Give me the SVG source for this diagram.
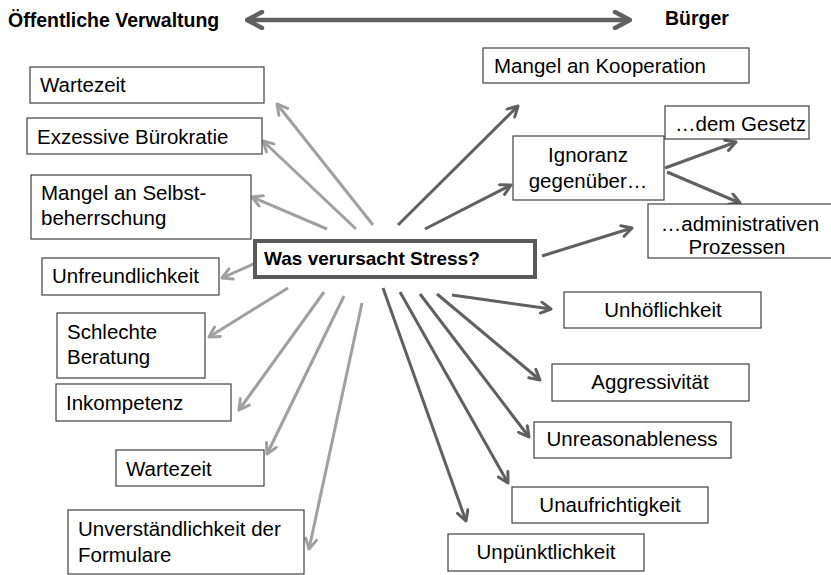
<svg xmlns="http://www.w3.org/2000/svg" width="831" height="575" viewBox="0 0 831 575">
<style>
text{font-family:"Liberation Sans",Arial,sans-serif;font-size:20.5px;fill:#000}
.b{font-weight:bold;font-size:19.5px}
.c{text-anchor:middle}
.box{fill:#fff;stroke:#404040;stroke-width:1.2}
.lt{stroke:#a0a0a0;stroke-width:3;fill:none;marker-end:url(#ml)}
.dk{stroke:#606060;stroke-width:3;fill:none;marker-end:url(#md)}
</style>
<defs>
<marker id="ml" viewBox="0 0 14 14" refX="12" refY="7" markerWidth="14" markerHeight="14" markerUnits="userSpaceOnUse" orient="auto"><path d="M2,1.5 L12,7 L2,12.5" fill="none" stroke="#a0a0a0" stroke-width="3" stroke-linecap="round" stroke-linejoin="round"/></marker>
<marker id="md" viewBox="0 0 14 14" refX="12" refY="7" markerWidth="14" markerHeight="14" markerUnits="userSpaceOnUse" orient="auto"><path d="M2,1.5 L12,7 L2,12.5" fill="none" stroke="#606060" stroke-width="3" stroke-linecap="round" stroke-linejoin="round"/></marker>
<marker id="mt" viewBox="0 0 20 20" refX="18" refY="10" markerWidth="20" markerHeight="20" markerUnits="userSpaceOnUse" orient="auto-start-reverse"><path d="M3,2 L18,10 L3,18" fill="none" stroke="#606060" stroke-width="4.5" stroke-linecap="round" stroke-linejoin="round"/></marker>
</defs>

<g id="header">
<text class="b" x="8" y="27">Öffentliche Verwaltung</text>
<text class="b" x="665" y="25">Bürger</text>
</g>

<g id="connectors">
<line x1="247" y1="20" x2="630" y2="20" stroke="#606060" stroke-width="4.5" marker-start="url(#mt)" marker-end="url(#mt)"/>
<line class="lt" x1="373" y1="225" x2="277" y2="104"/>
<line class="lt" x1="356" y1="229" x2="263" y2="141"/>
<line class="lt" x1="327" y1="229" x2="252" y2="197"/>
<line class="lt" x1="258" y1="262" x2="222" y2="278"/>
<line class="lt" x1="288" y1="288" x2="209" y2="337"/>
<line class="lt" x1="324" y1="292" x2="239" y2="410"/>
<line class="lt" x1="344" y1="296" x2="267" y2="454"/>
<line class="lt" x1="362" y1="303" x2="309" y2="549"/>
<line class="dk" x1="398" y1="225" x2="518" y2="106"/>
<line class="dk" x1="425" y1="229" x2="511" y2="185"/>
<line class="dk" x1="542" y1="256" x2="632" y2="228"/>
<line class="dk" x1="665" y1="168" x2="736" y2="142"/>
<line class="dk" x1="667" y1="172" x2="740" y2="203"/>
<line class="dk" x1="383" y1="288" x2="466" y2="521"/>
<line class="dk" x1="400" y1="292" x2="508" y2="483"/>
<line class="dk" x1="420" y1="294" x2="529" y2="437"/>
<line class="dk" x1="437" y1="294" x2="540" y2="380"/>
<line class="dk" x1="452" y1="295" x2="551" y2="309"/>
</g>

<g id="center">
<rect x="255" y="241" width="280" height="36" fill="#fff" stroke="#5a5a5a" stroke-width="4"/>
<text class="b" x="264" y="265" style="font-size:19px">Was verursacht Stress?</text>
</g>

<g id="wartezeit1"><rect class="box" x="30" y="67" width="234" height="36"/><text x="40" y="92">Wartezeit</text></g>
<g id="buerokratie"><rect class="box" x="27" y="118" width="235" height="36"/><text x="37" y="144">Exzessive Bürokratie</text></g>
<g id="selbstbeherrschung"><rect class="box" x="31" y="175" width="220" height="64"/><text x="41" y="200">Mangel an Selbst-</text><text x="41" y="225">beherrschung</text></g>
<g id="unfreundlichkeit"><rect class="box" x="42" y="258" width="177" height="37"/><text x="52" y="283">Unfreundlichkeit</text></g>
<g id="beratung"><rect class="box" x="57" y="313" width="148" height="65"/><text x="67" y="339">Schlechte</text><text x="67" y="364">Beratung</text></g>
<g id="inkompetenz"><rect class="box" x="56" y="384" width="175" height="37"/><text x="66" y="410">Inkompetenz</text></g>
<g id="wartezeit2"><rect class="box" x="116" y="450" width="148" height="36"/><text x="126" y="476">Wartezeit</text></g>
<g id="formulare"><rect class="box" x="68" y="510" width="236" height="64"/><text x="78" y="536">Unverständlichkeit der</text><text x="78" y="562">Formulare</text></g>

<g id="kooperation"><rect class="box" x="483" y="48" width="266" height="35"/><text x="494" y="73">Mangel an Kooperation</text></g>
<g id="ignoranz"><rect class="box" x="513" y="136" width="151" height="64"/><text class="c" x="588" y="162">Ignoranz</text><text class="c" x="588" y="188">gegenüber…</text></g>
<g id="gesetz"><rect class="box" x="665" y="106" width="144" height="33"/><text x="675" y="131">…dem Gesetz</text></g>
<g id="prozesse"><rect class="box" x="648" y="204" width="190" height="54"/><text class="c" x="740" y="231">…administrativen</text><text class="c" x="737" y="254">Prozessen</text></g>
<g id="unhoeflichkeit"><rect class="box" x="564" y="292" width="197" height="36"/><text class="c" x="663" y="317">Unhöflichkeit</text></g>
<g id="aggressivitaet"><rect class="box" x="552" y="364" width="197" height="37"/><text class="c" x="650" y="389">Aggressivität</text></g>
<g id="unreasonableness"><rect class="box" x="534" y="422" width="197" height="36"/><text class="c" x="632" y="446">Unreasonableness</text></g>
<g id="unaufrichtigkeit"><rect class="box" x="512" y="487" width="196" height="36"/><text class="c" x="610" y="512">Unaufrichtigkeit</text></g>
<g id="unpuenktlichkeit"><rect class="box" x="448" y="534" width="196" height="37"/><text class="c" x="546" y="559">Unpünktlichkeit</text></g>
</svg>
